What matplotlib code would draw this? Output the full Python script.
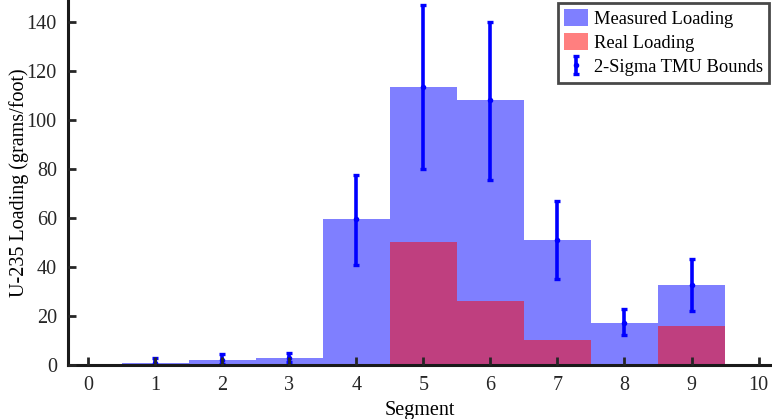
import matplotlib
matplotlib.use("Agg")
import matplotlib.pyplot as plt
import numpy as np

# -----------------------------
# Data
# -----------------------------
segments = [1, 2, 3, 4, 5, 6, 7, 8, 9]
measured = [0.8, 2.2, 2.8, 59.5, 113.5, 108, 51, 17, 32.8]
real = [0, 0.5, 0.5, 0.5, 50, 26, 10, 0, 16]
err_low = [0.0, 0.3, 1.0, 41, 80, 75.5, 35, 12.3, 22]
err_high = [3.0, 4.5, 5.0, 77.5, 147, 140, 67, 23, 43.2]
x_ticks = list(range(0, 11))
y_ticks = list(range(0, 141, 20))

plt.rcParams['font.family'] = ['Liberation Serif', 'DejaVu Serif']

fig = plt.figure(figsize=(7.72, 4.19), dpi=100)
ax = fig.add_axes([0.088, 0.129, 0.912, 0.871])

ax.bar(segments, measured, width=1.0, color=(0, 0, 1), alpha=0.5,
       linewidth=0, label="Measured Loading")
ax.bar(segments, real, width=1.0, color=(1, 0, 0), alpha=0.5,
       linewidth=0, label="Real Loading")

lo = np.array(measured) - np.array(err_low)
hi = np.array(err_high) - np.array(measured)
ax.errorbar(segments, measured, yerr=[lo, hi], fmt='.', color='blue',
            ecolor='blue', elinewidth=2.6, capsize=2.5, capthick=2.4,
            markersize=6, label="2-Sigma TMU Bounds")

ax.set_xlim(-0.3, 10.2)
ax.set_ylim(0, 149)
ax.set_xticks(x_ticks)
ax.set_yticks(y_ticks)
ax.tick_params(direction='in', length=6, width=2, labelsize=14.5, colors='#262626',
               pad=8)
ax.tick_params(axis='x', top=False)
ax.set_axisbelow(False)

for side in ['top', 'right']:
    ax.spines[side].set_visible(False)
for side in ['left', 'bottom']:
    ax.spines[side].set_linewidth(2.2)
    ax.spines[side].set_color('#1a1a1a')

ax.set_xlabel("Segment", fontsize=14.5, labelpad=4)
ax.set_ylabel("U-235 Loading (grams/foot)", fontsize=14.5)
ax.yaxis.set_label_coords(-0.056, 0.5)

leg = ax.legend(loc='upper right', fontsize=13.3, frameon=True, fancybox=False,
                borderpad=0.35, labelspacing=0.3, handlelength=1.3,
                handleheight=1.0, handletextpad=0.3, borderaxespad=0.15)
leg.get_frame().set_edgecolor('#1a1a1a')
leg.get_frame().set_linewidth(2)

fig.savefig("out.png", dpi=100)
